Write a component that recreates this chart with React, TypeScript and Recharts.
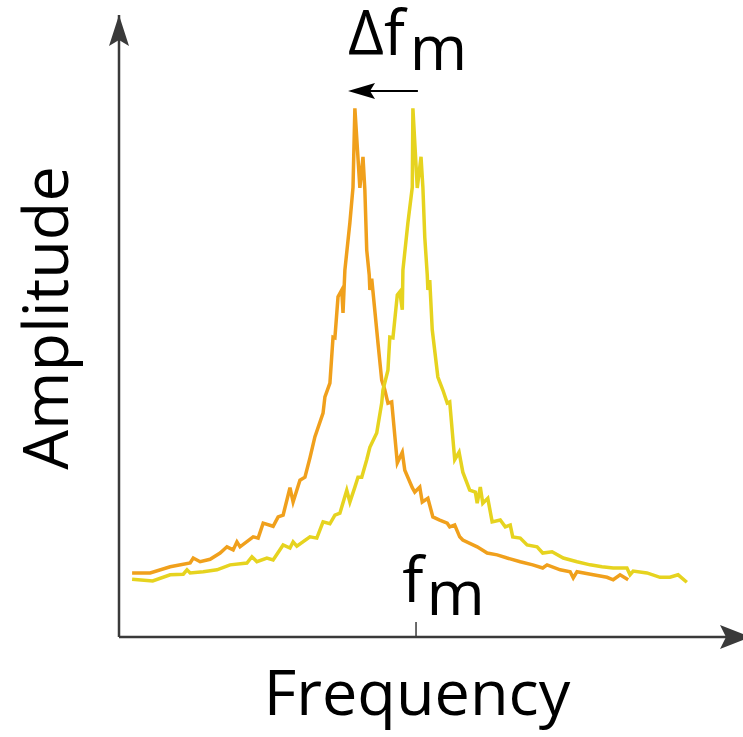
import React from "react";
import { LineChart, Line, XAxis, YAxis, ReferenceLine, ReferenceDot, Label } from "recharts";

// frequency / amplitude readings (arbitrary units, 0-100 on both axes)
const orangeFreq = [2.1, 5.0, 8.2, 11.4, 11.9, 13.0, 14.6, 16.2, 17.3, 18.3, 18.9, 19.4, 21.5, 22.3, 23.1, 24.7, 25.5, 26.3, 27.4, 27.9, 29.0, 29.8, 30.6, 31.4, 32.7, 33.0, 33.8, 34.3, 34.6, 35.1, 35.7, 35.9, 36.2, 37.0, 37.5, 37.8, 38.6, 39.1, 39.4, 39.7, 40.1, 40.2, 40.5, 41.5, 42.1, 42.6, 43.1, 43.7, 44.6, 45.4, 45.8, 47.0, 47.4, 48.2, 48.6, 49.5, 50.3, 51.4, 52.6, 53.0, 53.8, 54.6, 55.1, 57.4, 59.0, 60.6, 62.2, 64.3, 66.3, 67.9, 68.6, 70.7, 72.3, 72.8, 73.4, 76.0, 78.2, 79.2, 80.3, 81.6];
const orangeAmp = [10.3, 10.3, 11.3, 11.9, 12.7, 12.1, 12.5, 13.5, 14.5, 14.0, 15.3, 14.5, 16.1, 15.9, 18.3, 17.8, 19.3, 19.6, 24.0, 21.7, 25.2, 25.7, 28.8, 32.2, 36.0, 38.6, 40.8, 48.2, 48.1, 54.7, 55.8, 52.1, 59.0, 66.6, 72.3, 85.0, 72.2, 77.2, 71.9, 62.2, 58.2, 55.8, 57.6, 47.3, 41.3, 39.7, 37.6, 37.8, 28.0, 29.7, 26.8, 24.0, 23.3, 24.1, 21.7, 22.3, 19.3, 18.8, 18.3, 17.7, 18.0, 16.1, 15.6, 14.5, 13.5, 13.2, 12.7, 12.1, 11.6, 11.1, 11.6, 10.8, 10.5, 9.5, 10.5, 10.0, 9.6, 9.2, 10.0, 9.2];

const yellowFreq = [2.1, 5.4, 8.2, 10.3, 10.9, 11.4, 13.5, 15.7, 17.8, 20.5, 21.3, 22.1, 23.7, 24.7, 26.3, 27.4, 27.9, 28.5, 30.6, 31.7, 32.7, 33.8, 34.6, 35.4, 36.5, 37.0, 37.8, 38.3, 38.9, 39.7, 40.2, 41.3, 42.1, 42.3, 43.1, 43.4, 43.9, 44.6, 45.0, 45.4, 45.5, 46.3, 47.0, 47.1, 47.8, 48.4, 48.7, 49.0, 49.4, 49.5, 49.8, 50.2, 51.1, 51.9, 52.6, 53.0, 53.8, 54.5, 55.1, 56.2, 57.1, 57.4, 57.9, 58.3, 59.1, 59.8, 61.1, 61.9, 62.7, 63.1, 64.3, 65.4, 67.0, 67.9, 69.4, 71.2, 73.4, 75.5, 77.4, 79.2, 81.4, 81.9, 82.4, 84.6, 86.7, 88.3, 89.6, 91.0];
const yellowAmp = [9.3, 9.0, 10.0, 10.1, 10.8, 10.3, 10.5, 10.8, 11.6, 11.9, 12.9, 12.1, 12.7, 12.4, 14.8, 14.3, 15.3, 14.6, 16.1, 15.9, 18.5, 18.2, 19.6, 19.9, 23.6, 21.7, 24.1, 25.7, 25.7, 28.5, 30.5, 32.8, 37.6, 39.7, 42.9, 48.2, 48.1, 55.0, 55.5, 52.6, 59.0, 66.6, 72.3, 85.0, 72.2, 77.2, 72.3, 64.3, 58.2, 55.8, 57.4, 49.4, 41.8, 39.7, 37.6, 37.8, 28.5, 29.7, 26.5, 23.6, 23.3, 21.5, 24.1, 21.5, 22.3, 18.5, 18.8, 17.7, 18.0, 16.1, 15.9, 14.8, 14.5, 13.5, 13.7, 12.7, 12.1, 11.6, 11.3, 11.1, 11.1, 10.0, 10.6, 10.3, 9.6, 9.6, 10.0, 8.8];

const fm = 47.6;
const shiftFrom = 47.9;
const shiftTo = 36.7;
const shiftLevel = 87.8;

const orangeData = orangeFreq.map((f, i) => ({ f, a: orangeAmp[i] }));
const yellowData = yellowFreq.map((f, i) => ({ f, a: yellowAmp[i] }));

const FONT = "'Open Sans', sans-serif";
const AXIS = "#3a3a3a";

const UpHead = (p: any) => (
  <path d={`M${p.cx},${p.cy} L${p.cx + 10},${p.cy + 31} L${p.cx},${p.cy + 25} L${p.cx - 10},${p.cy + 31} Z`} fill={AXIS} />
);
const RightHead = (p: any) => (
  <path d={`M${p.cx + 8},${p.cy} L${p.cx - 23},${p.cy + 12} L${p.cx - 17},${p.cy} L${p.cx - 23},${p.cy - 12} Z`} fill={AXIS} />
);
const LeftHead = (p: any) => (
  <path d={`M${p.cx},${p.cy} L${p.cx + 27},${p.cy - 8} L${p.cx + 22},${p.cy} L${p.cx + 27},${p.cy + 8} Z`} fill="#000" />
);

const ShiftText = (p: any) => (
  <text x={p.cx} y={p.cy} fontFamily={FONT} fontSize={62} fill="#000">
    Δf<tspan dx={5} dy={15}>m</tspan>
  </text>
);
const FmText = (p: any) => (
  <text x={p.cx} y={p.cy} fontFamily={FONT} fontSize={63} fill="#000">
    f<tspan dx={3} dy={13}>m</tspan>
  </text>
);

export default function App() {
  return (
    <div style={{ position: "absolute", left: 0, top: 0, width: 743, height: 737, background: "#fff" }}>
      <LineChart width={743} height={737} margin={{ top: 15, right: 0, bottom: 0, left: 0 }}>
        <XAxis
          type="number"
          dataKey="f"
          domain={[0, 100]}
          allowDataOverflow
          tick={false}
          tickLine={false}
          height={100}
          axisLine={{ stroke: AXIS, strokeWidth: 2.5 }}
        >
          <Label
            content={({ viewBox }: any) => (
              <text x={viewBox.x + 298} y={viewBox.y + 78} textAnchor="middle" fontFamily={FONT} fontSize={63} fill="#000">
                Frequency
              </text>
            )}
          />
        </XAxis>
        <YAxis
          type="number"
          dataKey="a"
          domain={[0, 100]}
          allowDataOverflow
          tick={false}
          tickLine={false}
          width={119}
          axisLine={{ stroke: AXIS, strokeWidth: 2.5 }}
        >
          <Label
            content={({ viewBox }: any) => {
              const cx = viewBox.x + 68;
              const cy = viewBox.y + 303;
              return (
                <text x={cx} y={cy} transform={`rotate(-90, ${cx}, ${cy})`} textAnchor="middle" fontFamily={FONT} fontSize={63} fill="#000">
                  Amplitude
                </text>
              );
            }}
          />
        </YAxis>
        <Line data={orangeData} dataKey="a" type="linear" stroke="#F0A01C" strokeWidth={3.5} dot={false} isAnimationActive={false} />
        <Line data={yellowData} dataKey="a" type="linear" stroke="#E6D31F" strokeWidth={3.5} dot={false} isAnimationActive={false} />
        <ReferenceLine segment={[{ x: fm, y: 0 }, { x: fm, y: 2.4 }]} stroke={AXIS} strokeWidth={1.5} />
        <ReferenceLine segment={[{ x: shiftFrom, y: shiftLevel }, { x: shiftTo + 3.5, y: shiftLevel }]} stroke="#000" strokeWidth={2} />
        <ReferenceDot x={shiftTo} y={shiftLevel} shape={LeftHead} ifOverflow="visible" />
        <ReferenceDot x={0} y={100} shape={UpHead} ifOverflow="visible" />
        <ReferenceDot x={100} y={0} shape={RightHead} ifOverflow="visible" />
        <ReferenceDot x={36.7} y={93.6} shape={ShiftText} ifOverflow="visible" />
        <ReferenceDot x={45.4} y={5.6} shape={FmText} ifOverflow="visible" />
      </LineChart>
    </div>
  );
}
